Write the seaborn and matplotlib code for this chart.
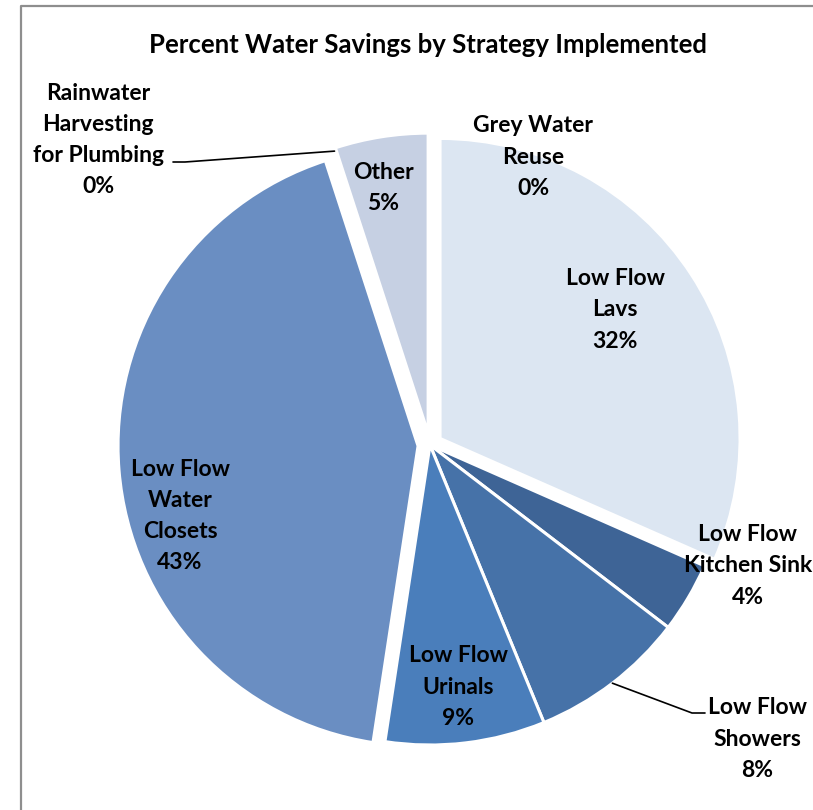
import matplotlib
matplotlib.use("Agg")
import matplotlib.pyplot as plt
from matplotlib.lines import Line2D
import numpy as np
import seaborn as sns

# ---- data -------------------------------------------------------------
categories = [
    "Grey Water\nReuse",
    "Low Flow\nLavs",
    "Low Flow\nKitchen Sink",
    "Low Flow\nShowers",
    "Low Flow\nUrinals",
    "Low Flow\nWater\nClosets",
    "Rainwater\nHarvesting\nfor Plumbing",
    "Other",
]
savings_pct = [0.0, 31.6, 3.8, 8.4, 8.6, 42.6, 0.0, 5.0]
title = "Percent Water Savings by Strategy Implemented"

# ---- styling ------------------------------------------------------------
colors = ["#DCE6F2", "#DCE6F2", "#3E6496", "#4672A8", "#4A7EBB",
          "#6A8EC2", "#C6D0E3", "#C6D0E3"]
explode_frac = [0, 0.04, 0, 0, 0, 0.04, 0, 0.04]

sns.set_theme(style="white")
plt.rcParams["font.family"] = ["Lato", "DejaVu Sans"]

W, H = 813, 810
fig = plt.figure(figsize=(W / 100, H / 100), dpi=100)
ax = fig.add_axes([0, 0, 1, 1])

cx, cy, R = 430, 445, 300  # pie centre / radius in pixel space (y from top)


def flip(y):
    return H - y


wedges, _ = ax.pie(
    savings_pct,
    colors=colors,
    explode=[f * R for f in explode_frac],  # pie offsets are in data units
    startangle=90,
    counterclock=False,
    center=(cx, flip(cy)),
    radius=R,
    wedgeprops=dict(edgecolor="white", linewidth=2.2),
    frame=True,
)
ax.set_xlim(0, W)
ax.set_ylim(0, H)
ax.set_aspect("equal")
ax.axis("off")

# label placement (pixel coords, y from top)
label_pos = {
    0: (533, 157),
    1: (615, 310),
    2: (748, 566),
    3: (757, 739),
    4: (458, 687),
    5: (180, 516),
    6: (98, 140),
    7: (383, 188),
}
fs = 16.5
for i, (name, v) in enumerate(zip(categories, savings_pct)):
    x, y = label_pos[i]
    ax.text(x, flip(y), f"{name}\n{round(v):.0f}%", ha="center", va="center",
            fontsize=fs, fontweight="bold", color="black", linespacing=1.6)


def edge_point(idx, rfac):
    w = wedges[idx]
    ang = np.deg2rad((w.theta1 + w.theta2) / 2)
    return (cx + rfac * R * np.cos(ang), flip(cy) + rfac * R * np.sin(ang))


# leader lines for labels placed outside the pie
sx, sy = edge_point(3, 1.0)
ax.plot([sx, 692, 705], [sy, flip(713), flip(713)], color="black", lw=1.2)
rx, ry = edge_point(6, 1.03)
ax.plot([rx, 185, 173], [ry, flip(162), flip(162)], color="black", lw=1.2)

ax.text(428, flip(45), title, ha="center", va="center", fontsize=18.5,
        fontweight="bold", color="black")

# chart-area border (extends past right and bottom edges)
fig.add_artist(Line2D([21 / W, 21 / W, 1.01], [-0.01, 1 - 6 / H, 1 - 6 / H],
                      transform=fig.transFigure, color="#8E8E8E", lw=1.6))

fig.savefig("out.png", dpi=100, facecolor="white")
